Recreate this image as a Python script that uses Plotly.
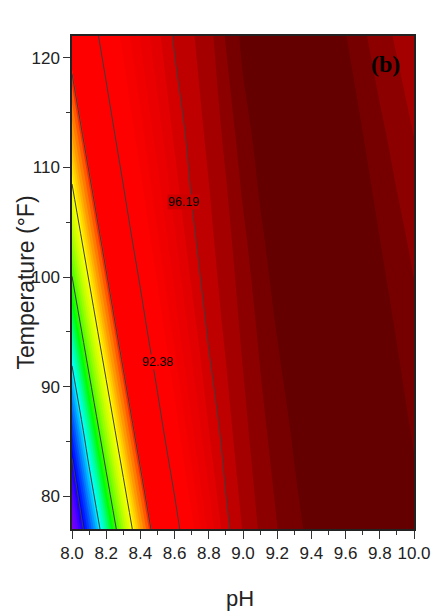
import plotly.graph_objects as go

ph_values = [8.0, 8.1, 8.2, 8.3, 8.4, 8.5, 8.6, 8.7, 8.8, 8.9, 9.0,
             9.1, 9.2, 9.3, 9.4, 9.5, 9.6, 9.7, 9.8, 9.9, 10.0]
temp_values = [77, 86, 95, 104, 113, 122]
resp_T77 = [70.8, 74.64, 78.56, 82.61, 86.69, 89.74, 91.90, 93.50, 94.85, 96.03, 96.74,
            97.27, 97.69, 98.06, 98.33, 98.53, 98.62, 98.68, 98.59, 98.50, 98.33]
resp_T86 = [74.33, 78.59, 82.67, 86.71, 89.72, 91.85, 93.34, 94.61, 95.69, 96.49, 97.04,
            97.53, 97.96, 98.27, 98.51, 98.61, 98.70, 98.61, 98.51, 98.35, 98.16]
resp_T95 = [78.62, 82.72, 86.73, 89.72, 91.80, 93.22, 94.38, 95.41, 96.30, 96.79, 97.30,
            97.80, 98.22, 98.49, 98.59, 98.68, 98.62, 98.53, 98.37, 98.18, 97.89]
resp_T104 = [82.76, 86.75, 89.70, 91.76, 93.12, 94.18, 95.15, 96.09, 96.58, 97.02, 97.60,
             98.13, 98.45, 98.57, 98.66, 98.64, 98.54, 98.39, 98.19, 97.87, 97.53]
resp_T113 = [86.77, 89.70, 91.71, 93.03, 94.01, 94.94, 95.81, 96.42, 96.81, 97.33, 98.00,
             98.39, 98.56, 98.65, 98.66, 98.56, 98.41, 98.21, 97.84, 97.47, 97.19]
resp_T122 = [89.68, 91.67, 92.96, 93.87, 94.75, 95.57, 96.28, 96.64, 97.00, 97.75, 98.33,
             98.54, 98.63, 98.68, 98.57, 98.44, 98.22, 97.80, 97.40, 97.13, 96.90]
line_levels = [73.33, 77.14, 80.95, 84.76, 88.57, 92.38, 96.19]
labelled_levels = ["92.38", "96.19"]
x_ticks = [8.0, 8.2, 8.4, 8.6, 8.8, 9.0, 9.2, 9.4, 9.6, 9.8, 10.0]
y_ticks = [80, 90, 100, 110, 120]

z = [resp_T77, resp_T86, resp_T95, resp_T104, resp_T113, resp_T122]

# ---- style ----
FILL_START, FILL_SIZE, FILL_END = 69.2, 0.5, 99.2
color_stops = [
    (68.95, (120, 0, 210)), (70.5, (140, 0, 230)), (72.0, (90, 0, 255)),
    (73.5, (0, 0, 255)), (75.0, (0, 90, 255)), (76.2, (0, 170, 255)),
    (77.3, (0, 255, 255)), (78.6, (0, 255, 150)), (80.0, (0, 255, 0)),
    (82.0, (130, 255, 0)), (83.3, (200, 255, 0)), (84.8, (255, 255, 0)),
    (86.0, (255, 200, 0)), (87.2, (255, 140, 0)), (88.2, (255, 70, 0)),
    (88.8, (255, 0, 0)), (93.3, (255, 0, 0)), (94.5, (240, 0, 0)),
    (95.5, (226, 0, 0)), (95.95, (212, 0, 0)), (96.45, (190, 0, 0)),
    (96.95, (165, 0, 0)), (97.45, (140, 0, 0)), (97.95, (118, 0, 0)),
    (98.45, (100, 0, 0)), (99.45, (100, 0, 0)),
]
nc = int((FILL_END - FILL_START) / FILL_SIZE + 1e-6) + 1
lo = FILL_START - FILL_SIZE / 2
hi = FILL_START + nc * FILL_SIZE - FILL_SIZE / 2
colorscale = [[min(1.0, max(0.0, (v - lo) / (hi - lo))), "rgb(%d,%d,%d)" % c]
              for v, c in color_stops]
colorscale[0][0] = 0.0
colorscale[-1][0] = 1.0

fig = go.Figure()
fig.add_trace(go.Contour(
    x=ph_values, y=temp_values, z=z,
    colorscale=colorscale, showscale=False,
    contours=dict(coloring="fill", start=FILL_START, end=FILL_END, size=FILL_SIZE),
    line=dict(width=0), hoverinfo="skip",
))
fig.add_trace(go.Contour(
    x=ph_values, y=temp_values, z=z, showscale=False,
    contours=dict(coloring="none", start=line_levels[0], end=line_levels[-1],
                  size=round(line_levels[1] - line_levels[0], 2)),
    line=dict(color="#3c3c3c", width=1), hoverinfo="skip",
))

label_pos = {"92.38": (8.499, 92.2, "rgb(255,0,0)"),
             "96.19": (8.651, 106.85, "rgb(205,0,0)")}
for lab in labelled_levels:
    px, ty, bg = label_pos[lab]
    fig.add_annotation(x=px, y=ty, text=lab, showarrow=False,
                       xanchor="center", yanchor="middle",
                       font=dict(family="Liberation Sans, Arial", size=12.5, color="black"),
                       bgcolor=bg, borderpad=0)

fig.add_annotation(x=0.918, y=0.943, xref="paper", yref="paper", text="<b>(b)</b>",
                   showarrow=False, xanchor="center", yanchor="middle",
                   font=dict(family="Liberation Serif, Times New Roman, serif", size=24, color="black"))

# axis titles placed as annotations for exact positioning
fig.add_annotation(x=0, y=0.5, xref="paper", yref="paper", text="Temperature (°F)",
                   textangle=-90, showarrow=False, xanchor="center", yanchor="middle",
                   xshift=-47, font=dict(family="Liberation Sans, Arial", size=23, color="#222"))
fig.add_annotation(x=0.491, y=0, xref="paper", yref="paper", text="pH",
                   showarrow=False, xanchor="center", yanchor="middle",
                   yshift=-69, font=dict(family="Liberation Sans, Arial", size=22, color="#222"))

tick_font = dict(family="Liberation Sans, Arial", size=17, color="#222")
fig.update_layout(
    width=434, height=615,
    margin=dict(l=72, r=20, t=36, b=86),
    paper_bgcolor="white", plot_bgcolor="white",
    xaxis=dict(range=[8, 10], tickvals=x_ticks, ticktext=["%.1f" % v for v in x_ticks],
               ticks="outside", ticklen=8, tickwidth=1.3, tickcolor="#333",
               minor=dict(dtick=0.1, ticks="outside", ticklen=4, tickcolor="#333"),
               showline=True, linecolor="#222", linewidth=1.5, mirror=True,
               showgrid=False, zeroline=False, tickfont=tick_font, automargin=False),
    yaxis=dict(range=[77, 122], tickvals=y_ticks,
               ticks="outside", ticklen=7, tickwidth=1.3, tickcolor="#333",
               minor=dict(dtick=5, tick0=80, ticks="outside", ticklen=4, tickcolor="#333"),
               showline=True, linecolor="#222", linewidth=1.5, mirror=True,
               showgrid=False, zeroline=False, tickfont=tick_font, automargin=False),
)

fig.write_html("out.html", config={"displayModeBar": False},
               post_script="document.body.style.margin='0';document.body.style.overflow='hidden';")
